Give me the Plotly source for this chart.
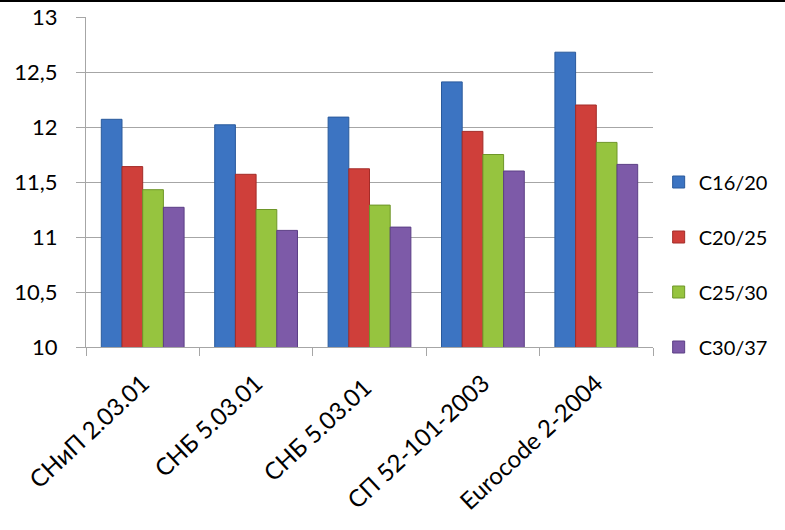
import plotly.graph_objects as go

# нормы (категории по оси X)
categories = ['СНиП 2.03.01', 'СНБ 5.03.01', 'СНБ 5.03.01 ', 'СП 52-101-2003', 'Eurocode 2-2004']

series_names = ['C16/20', 'C20/25', 'C25/30', 'C30/37']

c16_20 = [12.07, 12.02, 12.09, 12.41, 12.68]
c20_25 = [11.64, 11.57, 11.62, 11.96, 12.20]
c25_30 = [11.43, 11.25, 11.29, 11.75, 11.86]
c30_37 = [11.27, 11.06, 11.09, 11.60, 11.66]

y_ticks = [10, 10.5, 11, 11.5, 12, 12.5, 13]

colors = ['#3c74c2', '#cf3f3a', '#96c43f', '#7d5aa8']
edge_colors = ['#2a5a9c', '#a32c28', '#6e9629', '#5c3f85']

fig = go.Figure()
for i, vals in enumerate([c16_20, c20_25, c25_30, c30_37]):
    fig.add_trace(go.Bar(
        x=categories, y=vals, name=series_names[i],
        legendgroup=series_names[i],
        marker=dict(color=colors[i], line=dict(color=edge_colors[i], width=1)),
    ))

fig.update_layout(
    width=785, height=530,
    margin=dict(l=86, r=128, t=17, b=183),
    paper_bgcolor='white', plot_bgcolor='white',
    font=dict(family='Lato, Open Sans, sans-serif', size=20, color='black'),
    separators=', ',
    barmode='group', bargap=0.27, bargroupgap=0,
    showlegend=True,
    legend=dict(x=1.01, xanchor='left', y=0.25, yanchor='middle',
                tracegroupgap=26, font=dict(size=20),
                bgcolor='rgba(0,0,0,0)'),
    # черная линия по верхнему краю
    shapes=[dict(type='line', xref='paper', yref='paper', x0=-0.2, x1=1.3,
                 y0=1.0485, y1=1.0485, line=dict(color='black', width=2))],
)

fig.update_yaxes(range=[10, 13], tickvals=y_ticks, showgrid=True,
                 gridcolor='#a6a6a6', gridwidth=1,
                 showline=True, linecolor='#a6a6a6',
                 ticks='outside', ticklen=9, tickcolor='#a6a6a6',
                 ticklabelstandoff=14, zeroline=False, automargin=False,
                 tickfont=dict(size=22))
fig.update_xaxes(tickangle=-43, showline=True, linecolor='#a6a6a6',
                 ticks='outside', ticklen=8, tickcolor='#a6a6a6',
                 tickson='boundaries', tickfont=dict(size=24),
                 ticklabelstandoff=12, automargin=False)

# убрать стандартный отступ body, чтобы график начинался с (0,0)
fig.write_html('out.html', config={'displayModeBar': False},
               post_script="document.body.style.margin='0';")
